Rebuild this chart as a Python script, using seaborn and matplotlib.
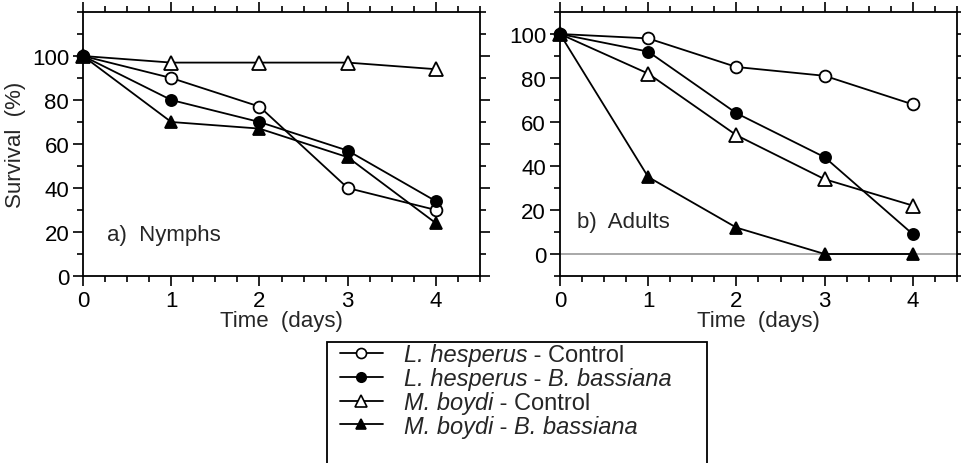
import numpy as np
import pandas as pd
import matplotlib
matplotlib.use("Agg")
import matplotlib.pyplot as plt
from matplotlib.text import Annotation
from matplotlib.ticker import MultipleLocator
from matplotlib.patches import Rectangle
import seaborn as sns

sns.set_theme(style="ticks")
plt.rcParams["font.family"] = ["Liberation Sans", "DejaVu Sans"]

# Dados
days = [0, 1, 2, 3, 4]
series = ["Lh_control", "Lh_bb", "Mb_control", "Mb_bb"]
# cada rótulo: (parte itálica, sufixo normal, sufixo itálico)
label_parts = [("L. hesperus", " - Control", ""),
               ("L. hesperus", " - ", "B. bassiana"),
               ("M. boydi", " - Control", ""),
               ("M. boydi", " - ", "B. bassiana")]

nymphs = {
    "Lh_control": [100, 90, 77, 40, 30],
    "Lh_bb": [100, 80, 70, 57, 34],
    "Mb_control": [100, 97, 97, 97, 94],
    "Mb_bb": [100, 70, 67, 54, 24],
}
adults = {
    "Lh_control": [100, 98, 85, 81, 68],
    "Lh_bb": [100, 92, 64, 44, 9],
    "Mb_control": [100, 82, 54, 34, 22],
    "Mb_bb": [100, 35, 12, 0, 0],
}

styles = {
    "Lh_control": dict(marker="o", markerfacecolor="white", markersize=8.5),
    "Lh_bb": dict(marker="o", markerfacecolor="black", markersize=8),
    "Mb_control": dict(marker="^", markerfacecolor="white", markersize=10),
    "Mb_bb": dict(marker="^", markerfacecolor="black", markersize=9),
}

FS = 16
LFS = 17


def to_long(d):
    rows = []
    for s in series:
        for t, v in zip(days, d[s]):
            rows.append({"day": t, "survival": v, "series": s})
    return pd.DataFrame(rows)


fig = plt.figure(figsize=(9.61, 4.64), dpi=100)
ax_a = fig.add_axes([0.0864, 0.403, 0.4131, 0.569])
ax_b = fig.add_axes([0.5827, 0.403, 0.4131, 0.569])

panels = [(ax_a, to_long(nymphs), (0, 120), "a)  Nymphs", (0.27, 19)),
          (ax_b, to_long(adults), (-10, 110), "b)  Adults", (0.19, 15))]

for ax, df, ylim, tag, tagpos in panels:
    if ax is ax_b:
        ax.axhline(0, color="#9a9a9a", lw=1.2, zorder=1)
    for s in series:
        sub = df[df["series"] == s]
        sns.lineplot(data=sub, x="day", y="survival", ax=ax, color="black",
                     lw=1.3, markeredgecolor="black", markeredgewidth=1.3,
                     label=None, legend=False, zorder=3, clip_on=False,
                     **styles[s])
    ax.set_xlim(0, 4.5)
    ax.set_ylim(*ylim)
    ax.xaxis.set_major_locator(MultipleLocator(1))
    ax.xaxis.set_minor_locator(MultipleLocator(0.25))
    ax.yaxis.set_major_locator(MultipleLocator(20))
    ax.yaxis.set_minor_locator(MultipleLocator(10))
    ax.set_xticks([0, 1, 2, 3, 4])
    ax.set_yticks(np.arange(0, 101, 20))
    ax.tick_params(which="both", direction="out", top=True, right=True,
                   width=1.2, colors="black", labelsize=FS)
    ax.tick_params(which="major", length=7, pad=3)
    ax.tick_params(which="minor", length=4)
    for sp in ax.spines.values():
        sp.set_visible(True)
        sp.set_linewidth(1.3)
        sp.set_color("black")
    ax.set_xlabel("Time  (days)", fontsize=FS, labelpad=-1)
    ax.set_ylabel("")
    ax.text(tagpos[0], tagpos[1], tag, fontsize=FS, ha="left", va="center")

ax_a.set_ylabel("Survival  (%)", fontsize=FS, labelpad=4)

# legenda: alças + parte itálica; o resto do rótulo vem logo depois
handles = []
for s, parts in zip(series, label_parts):
    st = styles[s]
    h, = ax_a.plot([], [], color="black", lw=1.3, marker=st["marker"],
                   markerfacecolor=st["markerfacecolor"],
                   markeredgecolor="black", markersize=st["markersize"] * 0.85,
                   markeredgewidth=1.2, label=parts[0])
    handles.append(h)

leg = fig.legend(handles=handles, loc="upper left", bbox_to_anchor=(0.344, 0.278),
                 frameon=False, prop={"size": LFS, "style": "italic"},
                 handlelength=1.8, handletextpad=0.9,
                 labelspacing=0.03, borderaxespad=0)
fig.canvas.draw()

for txt, parts in zip(leg.get_texts(), label_parts):
    a1 = fig.add_artist(Annotation(parts[1], xy=(1, 0), xycoords=txt,
                                   ha="left", va="bottom", fontsize=LFS))
    if parts[2]:
        fig.add_artist(Annotation(parts[2], xy=(1, 0), xycoords=a1,
                                  ha="left", va="bottom", fontsize=LFS,
                                  fontstyle="italic"))

fig.add_artist(Rectangle((327 / 961, -0.05), 380 / 961, 0.05 + (464 - 343) / 464,
                         transform=fig.transFigure, fill=False,
                         edgecolor="black", lw=1.3))

fig.savefig("out.png", dpi=100)
